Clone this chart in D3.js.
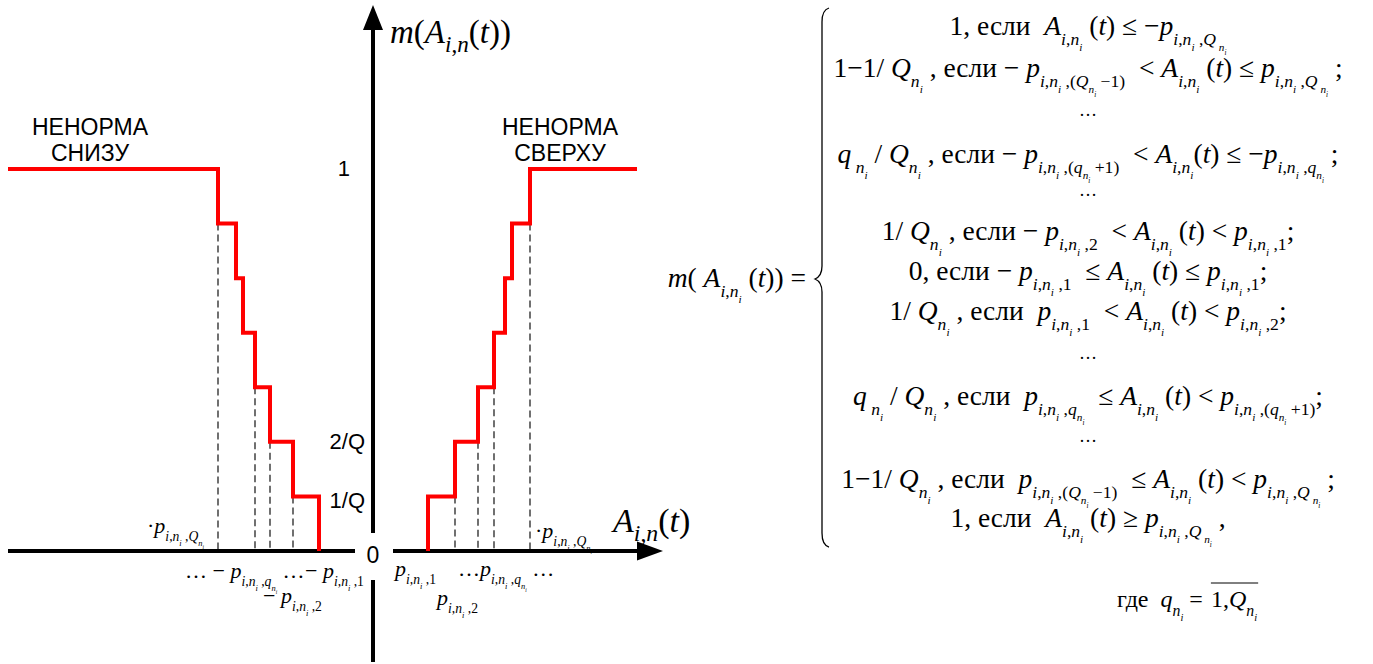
<!DOCTYPE html>
<html>
<head>
<meta charset="utf-8">
<script src="https://cdn.jsdelivr.net/npm/d3@7"></script>
<style>
  html, body { margin: 0; padding: 0; background: #fff; }
  svg text { white-space: pre; }
  .serif, .serif tspan { font-family: 'Liberation Serif', 'Times New Roman', serif; }
</style>
</head>
<body>
<div id="chart"></div>
<script>
// Step membership function m(A) with Q = 7 levels

// x values (arbitrary units of A, 0 = vertical axis) where the left staircase steps down
const leftBreaks = [-365, -155, -137, -130, -118, -103, -80, -54];
const leftLevels = [7, 6, 5, 4, 3, 2, 1, 0];
// x values where the right staircase steps up
const rightBreaks = [55, 82, 105, 121, 132, 139, 157, 264];
const rightLevels = [0, 1, 2, 3, 4, 5, 6, 7];

// dashed drop lines: position and level they start from
const leftDropX = [-155, -118, -103, -80];
const leftDropLevel = [6, 3, 2, 1];
const rightDropX = [82, 105, 121, 157];
const rightDropLevel = [1, 2, 3, 6];

const levelLabels = ['1', '2/Q', '1/Q'];
const levelLabelLevels = [7, 2, 1];

const zoneLabels = [['НЕНОРМА', 'СНИЗУ'], ['НЕНОРМА', 'СВЕРХУ']];

const formulaLines = [
  '1, если  A_{i,n_{i}} (t) ≤ −p_{i,n_{i} ,Q_{ n_{i}}}',
  '1−1/ Q_{n_{i}} , если − p_{i,n_{i} ,(Q_{n_{i}} −1)}  < A_{i,n_{i}} (t) ≤ p_{i,n_{i} ,Q_{ n_{i}}} ;',
  '…',
  'q_{ n_{i}} / Q_{n_{i}} , если − p_{i,n_{i} ,(q_{n_{i}} +1)}  < A_{i,n_{i}}(t) ≤ −p_{i,n_{i} ,q_{n_{i}}} ;',
  '…',
  '1/ Q_{n_{i}} , если − p_{i,n_{i} ,2}  < A_{i,n_{i}} (t) < p_{i,n_{i} ,1};',
  '0, если − p_{i,n_{i} ,1}  ≤ A_{i,n_{i}} (t) ≤ p_{i,n_{i} ,1};',
  '1/ Q_{n_{i}} , если  p_{i,n_{i} ,1}  < A_{i,n_{i}} (t) < p_{i,n_{i} ,2};',
  '…',
  'q_{ n_{i}} / Q_{n_{i}} , если  p_{i,n_{i} ,q_{n_{i}}}  ≤ A_{i,n_{i}} (t) < p_{i,n_{i} ,(q_{n_{i}} +1)};',
  '…',
  '1−1/ Q_{n_{i}} , если  p_{i,n_{i} ,(Q_{n_{i}} −1)}  ≤ A_{i,n_{i}} (t) < p_{i,n_{i} ,Q_{ n_{i}}} ;',
  '1, если  A_{i,n_{i}} (t) ≥ p_{i,n_{i} ,Q_{ n_{i}}} ,'
];
const formulaBaselines = [35, 77, 116, 163, 196, 240, 280, 320, 359, 405, 442, 488, 527];

const W = 1373, H = 664;
const SANS = '"Liberation Sans", Arial, sans-serif';

const svg = d3.select('#chart').append('svg')
  .attr('width', W)
  .attr('height', H);

const x = d3.scaleLinear().domain([-365, 365]).range([8, 738]);
const y = d3.scaleLinear().domain([0, 7]).range([551, 169]);

/**
 * Minimal math markup: "_{...}" makes a subscript, Latin letters are italic.
 */
function parseMath(str) {
  const runs = [];
  let level = 0, buf = '';
  const flush = () => { if (buf) { runs.push({ text: buf, level }); buf = ''; } };
  for (let i = 0; i < str.length; i++) {
    const c = str[i];
    if (c === '_' && str[i + 1] === '{') { flush(); level++; i++; continue; }
    if (c === '}') { flush(); level--; continue; }
    buf += c;
  }
  flush();
  return runs;
}

function mathText(parent, str, opts) {
  const size = opts.size;
  const ratio = opts.ratio || 0.62;
  const shift = opts.shift || 0.36;
  const t = parent.append('text')
    .attr('class', 'serif')
    .attr('x', opts.x)
    .attr('y', opts.y)
    .attr('text-anchor', opts.anchor || 'start')
    .attr('fill', '#000');
  let cur = 0;
  parseMath(str).forEach(run => {
    const fs = size * Math.pow(ratio, run.level);
    let off = 0;
    for (let l = 1; l <= run.level; l++) off += size * Math.pow(ratio, l - 1) * shift;
    run.text.match(/[A-Za-z]+|[^A-Za-z]+/g).forEach(chunk => {
      t.append('tspan')
        .attr('dy', off - cur)
        .attr('font-size', fs)
        .attr('font-style', /[A-Za-z]/.test(chunk) ? 'italic' : 'normal')
        .text(chunk);
      cur = off;
    });
  });
  return t;
}

// ---- staircase chart ----
const chart = svg.append('g');

// dashed drop lines
const drops = leftDropX.map((v, i) => ({ x: v, level: leftDropLevel[i] }))
  .concat(rightDropX.map((v, i) => ({ x: v, level: rightDropLevel[i] })));

chart.selectAll('.drop')
  .data(drops)
  .enter()
  .append('line')
  .attr('class', 'drop')
  .attr('x1', d => x(d.x))
  .attr('x2', d => x(d.x))
  .attr('y1', d => y(d.level))
  .attr('y2', y(0))
  .attr('stroke', '#111')
  .attr('stroke-width', 1.2)
  .attr('stroke-dasharray', '7,4');

// axes
const axisColor = '#000';
const x0 = x(0), y0 = y(0);

chart.append('line')
  .attr('x1', x(-365)).attr('x2', x0 - 18)
  .attr('y1', y0).attr('y2', y0)
  .attr('stroke', axisColor).attr('stroke-width', 4);

chart.append('line')
  .attr('x1', x0 + 20).attr('x2', x(270))
  .attr('y1', y0).attr('y2', y0)
  .attr('stroke', axisColor).attr('stroke-width', 4);

chart.append('path')
  .attr('d', `M${x(264)},${y0 - 9.5} L${x(290)},${y0} L${x(264)},${y0 + 9.5} Z`)
  .attr('fill', axisColor);

chart.append('line')
  .attr('x1', x0).attr('x2', x0)
  .attr('y1', 28).attr('y2', y0 - 18)
  .attr('stroke', axisColor).attr('stroke-width', 4);

chart.append('line')
  .attr('x1', x0).attr('x2', x0)
  .attr('y1', y0 + 29).attr('y2', 662)
  .attr('stroke', axisColor).attr('stroke-width', 4);

chart.append('path')
  .attr('d', `M${x0 - 10},30 L${x0},5 L${x0 + 10},30 Z`)
  .attr('fill', axisColor);

// red step functions
const leftData = leftBreaks.map((v, i) => [v, leftLevels[i]]);
const rightData = rightBreaks.map((v, i) => [v, rightLevels[i]]);

chart.append('path')
  .datum(leftData)
  .attr('fill', 'none')
  .attr('stroke', '#ff0000')
  .attr('stroke-width', 4)
  .attr('d', d3.line().x(d => x(d[0])).y(d => y(d[1])).curve(d3.curveStepAfter));

chart.append('path')
  .datum(rightData)
  .attr('fill', 'none')
  .attr('stroke', '#ff0000')
  .attr('stroke-width', 4)
  .attr('d', d3.line().x(d => x(d[0])).y(d => y(d[1])).curve(d3.curveStepBefore));

// level labels
levelLabels.forEach((lbl, i) => {
  chart.append('text')
    .attr('x', lbl === '1' ? x0 - 23 : x0 - 8)
    .attr('y', y(levelLabelLevels[i]) + (lbl === '1/Q' ? 12 : 7))
    .attr('text-anchor', 'end')
    .attr('font-family', SANS)
    .attr('font-size', 22)
    .text(lbl);
});

chart.append('text')
  .attr('x', x0)
  .attr('y', y0 + 12)
  .attr('text-anchor', 'middle')
  .attr('font-family', SANS)
  .attr('font-size', 23)
  .text('0');

// zone labels
[[-283, 0], [187, 1]].forEach(([cx, k]) => {
  zoneLabels[k].forEach((line, j) => {
    chart.append('text')
      .attr('x', x(cx))
      .attr('y', 135 + j * 26)
      .attr('text-anchor', 'middle')
      .attr('font-family', SANS)
      .attr('font-size', 23)
      .text(line);
  });
});

// axis titles
mathText(chart, 'm(A_{i,n}(t))', { x: x0 + 17, y: 43, size: 33, ratio: 0.7, shift: 0.26 });
mathText(chart, 'A_{i,n}(t)', { x: x(240), y: 532, size: 34, ratio: 0.7, shift: 0.26 });

// threshold labels under / above the x axis
const pSize = 22;
mathText(chart, '·p_{i,n_{i} ,Q_{n_{i}}}', { x: x(-226), y: 533, size: pSize });
mathText(chart, '… − p_{i,n_{i} ,q_{n_{i}}} …', { x: x(-188), y: 578, size: pSize });
mathText(chart, '− p_{i,n_{i} ,1}', { x: x(-68), y: 578, size: pSize });
mathText(chart, '− p_{i,n_{i} ,2}', { x: x(-110), y: 603, size: pSize });
mathText(chart, 'p_{i,n_{i} ,1}', { x: x(22), y: 576, size: pSize });
mathText(chart, '…p_{i,n_{i} ,q_{n_{i}}} …', { x: x(85), y: 576, size: pSize });
mathText(chart, 'p_{i,n_{i} ,2}', { x: x(64), y: 605, size: pSize });
mathText(chart, '·p_{i,n_{i} ,Q_{n_{i}}}', { x: x(162), y: 538, size: pSize });

// ---- piecewise definition ----
const formula = svg.append('g');
const fSize = 27.5;
const centerX = 1088;

mathText(formula, 'm( A_{i,n_{i}} (t)) =', { x: 806, y: 287, size: fSize, ratio: 0.64, anchor: 'end' });

formula.append('path')
  .attr('d', 'M829,8 Q822,10 822,22 L822,266 Q822,276 815,279 Q822,282 822,292 L822,533 Q822,545 829,547')
  .attr('fill', 'none')
  .attr('stroke', '#000')
  .attr('stroke-width', 1.3);

formulaLines.forEach((line, i) => {
  mathText(formula, line, {
    x: centerX,
    y: formulaBaselines[i],
    size: line === '…' ? 18 : fSize,
    ratio: 0.64,
    anchor: 'middle'
  });
});

// "где q = 1,Q" with overline
const gde = mathText(formula, 'где  q_{n_{i}} = ', { x: 1117, y: 607, size: 24, ratio: 0.66 });
const gx = 1117 + gde.node().getComputedTextLength() + 2;
const range = mathText(formula, '1,Q_{n_{i}}', { x: gx, y: 607, size: 24, ratio: 0.66 });
const rb = range.node().getBBox();
formula.append('line')
  .attr('x1', rb.x)
  .attr('x2', rb.x + rb.width + 1)
  .attr('y1', 583)
  .attr('y2', 583)
  .attr('stroke', '#000')
  .attr('stroke-width', 1);
</script>
</body>
</html>
